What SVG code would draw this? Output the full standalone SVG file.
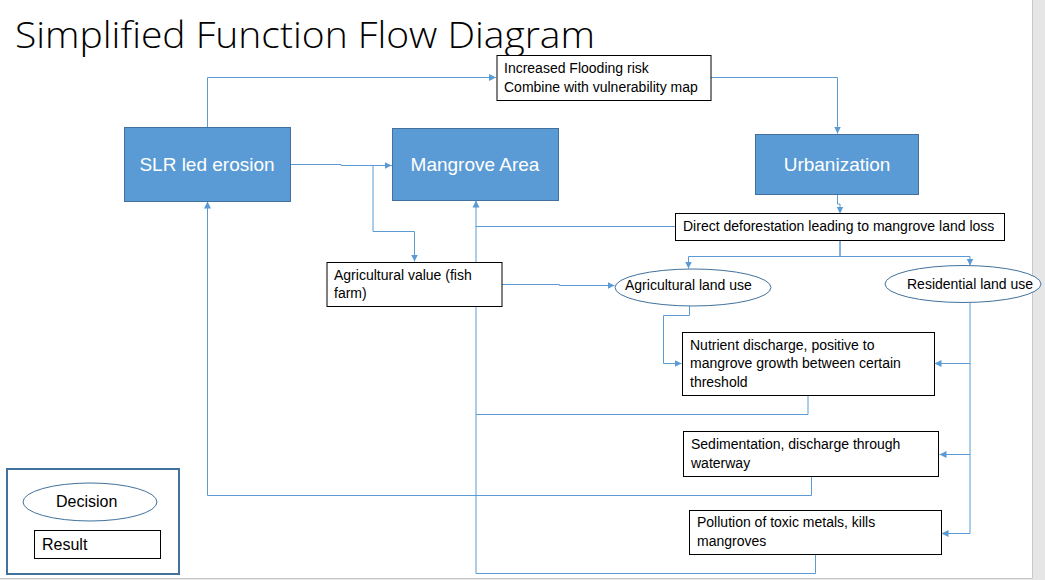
<svg xmlns="http://www.w3.org/2000/svg" width="1045" height="580" viewBox="0 0 1045 580">
<defs>
<marker id="ah" markerWidth="8" markerHeight="8" refX="7" refY="4" orient="auto" markerUnits="userSpaceOnUse">
<path d="M0,0.5 L7,4 L0,7.5 Z" fill="#5B9BD5"/>
</marker>
<style>
.main{fill:#5B9BD5;stroke:#41719C;stroke-width:1}
.mt{fill:#fff;font-family:"Liberation Sans",Arial,sans-serif;font-size:19px;text-anchor:middle}
.res{fill:#fff;stroke:#000;stroke-width:1}
.dec{fill:#fff;stroke:#41719C;stroke-width:1}
.t{fill:#000;font-family:"Liberation Sans",Arial,sans-serif;font-size:14px}
.lt{fill:#000;font-family:"Liberation Sans",Arial,sans-serif;font-size:16px}
.c{fill:none;stroke:#5B9BD5;stroke-width:1}
.ca{fill:none;stroke:#5B9BD5;stroke-width:1;marker-end:url(#ah)}
</style>
</defs>
<rect x="0" y="0" width="1045" height="580" fill="#fff"/>
<rect x="1033" y="0" width="12" height="580" fill="#e6e6e6"/>
<rect x="0" y="579" width="1045" height="1" fill="#e6e6e6"/>
<line x1="1032.5" y1="0" x2="1032.5" y2="578.5" stroke="#c8c8c8"/>
<line x1="0" y1="578.5" x2="1032.5" y2="578.5" stroke="#c8c8c8"/>
<text x="15" y="48" font-family="Open Sans, Liberation Sans, sans-serif" font-weight="300" font-size="37" textLength="580" lengthAdjust="spacingAndGlyphs" fill="#000">Simplified Function Flow Diagram</text>

<g id="connectors">
<path class="ca" d="M207.5,127 V77.5 H496"/>
<path class="ca" d="M711,77.5 H837.5 V133.5"/>
<path class="ca" d="M290,164.5 H341 V165.5 H391.5"/>
<path class="ca" d="M392,165.5 H373 V231.5 H414.5 V261.5"/>
<path class="ca" d="M502,284.5 H559.5 V285.5 H614.5"/>
<path class="ca" d="M837.5,194 V204 H840 V213.5"/>
<path class="ca" d="M675,226.5 H476 V200.5"/>
<path class="ca" d="M840,240 V256.5 H688.5 V268.5"/>
<path class="ca" d="M840,240 V256.5 H970 V265.5"/>
<path class="ca" d="M689.5,306 V315.5 H663.5 V363.5 H681.5"/>
<path class="ca" d="M970,303 V363.5 H934.5"/>
<path class="ca" d="M970,363 V454.5 H939.5"/>
<path class="ca" d="M970,454 V533.5 H941.5"/>
<path class="c" d="M808,395 V414.5 H476"/>
<path class="ca" d="M811.5,476 V495.5 H207.5 V201.5"/>
<path class="c" d="M815.5,555 V573.5 H476 V226"/>
</g>

<g id="slr"><rect class="main" x="124.5" y="127.5" width="166" height="74"/><text class="mt" x="207" y="171">SLR led erosion</text></g>
<g id="mangrove"><rect class="main" x="392.5" y="128.5" width="166" height="72"/><text class="mt" x="475" y="171">Mangrove Area</text></g>
<g id="urbanization"><rect class="main" x="755.5" y="134.5" width="163" height="60"/><text class="mt" x="837" y="171">Urbanization</text></g>
<g id="flooding"><rect class="res" x="497" y="55.5" width="214" height="45"/><text class="t" x="504" y="73">Increased Flooding risk</text><text class="t" x="504" y="92">Combine with vulnerability map</text></g>
<g id="deforestation"><rect class="res" x="675.5" y="213.5" width="329" height="27"/><text class="t" x="683" y="231">Direct deforestation leading to mangrove land loss</text></g>
<g id="agvalue"><rect class="res" x="327" y="262.5" width="175" height="44"/><text class="t" x="334" y="280">Agricultural value (fish</text><text class="t" x="334" y="298">farm)</text></g>
<g id="agland"><ellipse class="dec" cx="693" cy="287.5" rx="78" ry="18.5"/><text class="t" x="625" y="290">Agricultural land use</text></g>
<g id="residential"><ellipse class="dec" cx="963" cy="284" rx="78" ry="18.5"/><text class="t" x="907" y="289">Residential land use</text></g>
<g id="nutrient"><rect class="res" x="682.5" y="332.5" width="252" height="63"/><text class="t" x="690" y="350">Nutrient discharge, positive to</text><text class="t" x="690" y="368">mangrove growth between certain</text><text class="t" x="690" y="387">threshold</text></g>
<g id="sedimentation"><rect class="res" x="683.5" y="431.5" width="255" height="45"/><text class="t" x="691" y="449">Sedimentation, discharge through</text><text class="t" x="691" y="468">waterway</text></g>
<g id="pollution"><rect class="res" x="689.5" y="510.5" width="252" height="44"/><text class="t" x="697" y="527">Pollution of toxic metals, kills</text><text class="t" x="697" y="546">mangroves</text></g>

<g id="legend">
<rect x="7" y="469" width="172" height="105" fill="none" stroke="#41719C" stroke-width="2"/>
<ellipse class="dec" cx="90" cy="502" rx="67" ry="19"/>
<text class="lt" x="56" y="507">Decision</text>
<rect class="res" x="34.5" y="530.5" width="126" height="28"/>
<text class="lt" x="42" y="550">Result</text>
</g>
</svg>
